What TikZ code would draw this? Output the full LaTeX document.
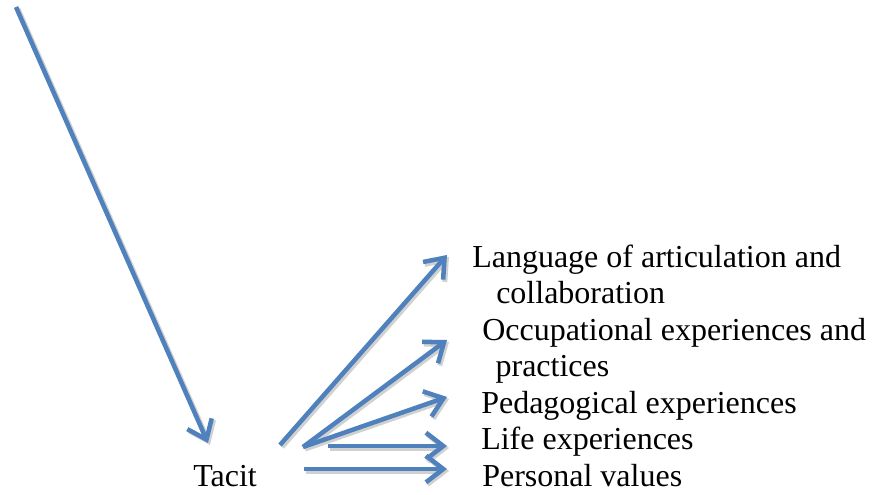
\documentclass[tikz,border=0pt]{standalone}
\usepackage{fontspec}
\setmainfont{Liberation Serif}
\usetikzlibrary{arrows.meta}
\definecolor{arrowblue}{RGB}{79,129,189}
\tikzset{
  link/.style={arrowblue, line width=3.4pt, -{Straight Barb[length=13pt,width=20pt]},
    preaction={draw=black!18, line width=3.8pt, transform canvas={shift={(1.5pt,-1.5pt)}}}},
  item/.style={anchor=base west, inner sep=0pt, align=left, font=\fontsize{24}{27.4}\selectfont}
}
\begin{document}
\begin{tikzpicture}[x=0.75pt,y=-0.75pt]
\useasboundingbox (0,0) rectangle (872,495);
% texts
\node[item] (tacit) at (193,487) {Tacit};
\node[item] (lang) at (472,304) {Language of articulation and\\\hspace*{18pt}collaboration};
\node[item] (occ) at (482,377) {Occupational experiences and\\\hspace*{10pt}practices};
\node[item] (ped) at (481,414) {Pedagogical experiences};
\node[item] (life) at (481,450) {Life experiences};
\node[item] (pers) at (482,487) {Personal values};
% arrow ends
\coordinate (s0) at (16,7);    \coordinate (e0) at (208,443);
\coordinate (s1) at (280,445); \coordinate (e1) at (447,255);
\coordinate (s2) at (303,447); \coordinate (e2) at (447,340);
\coordinate (s3) at (303,447); \coordinate (e3) at (447,397);
\coordinate (s4) at (328,446); \coordinate (e4) at (447,446);
\coordinate (s5) at (304,469); \coordinate (e5) at (447,469);
\draw[link] (s0) -- (e0);
\foreach \i in {1,...,5}
  \draw[link] (s\i) -- (e\i);
\end{tikzpicture}
\end{document}
